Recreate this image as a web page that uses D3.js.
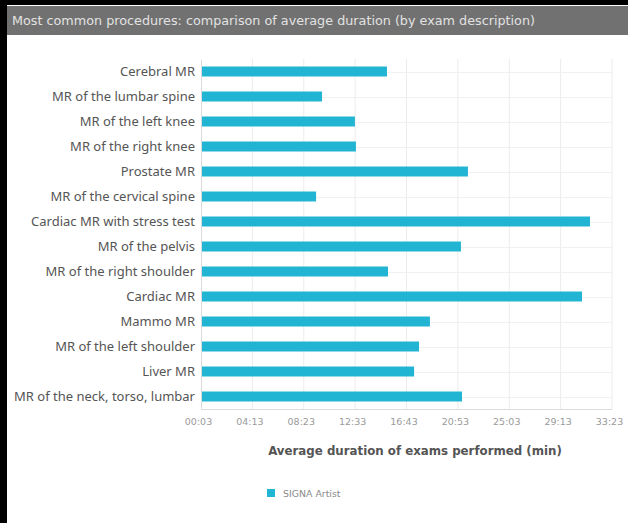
<!DOCTYPE html>
<html>
<head>
<meta charset="utf-8">
<script src="https://cdn.jsdelivr.net/npm/d3@7/dist/d3.min.js"></script>
<style>
  html, body { margin: 0; padding: 0; background: #000; }
  svg { display: block; }
</style>
</head>
<body>
<script>
// Exam descriptions, top to bottom
const categories = [
  "Cerebral MR",
  "MR of the lumbar spine",
  "MR of the left knee",
  "MR of the right knee",
  "Prostate MR",
  "MR of the cervical spine",
  "Cardiac MR with stress test",
  "MR of the pelvis",
  "MR of the right shoulder",
  "Cardiac MR",
  "Mammo MR",
  "MR of the left shoulder",
  "Liver MR",
  "MR of the neck, torso, lumbar"
];
// Average duration in seconds
const durations = [908, 592, 752, 757, 1302, 563, 1896, 1268, 913, 1857, 1117, 1064, 1040, 1273];
// Tick values in seconds, shown as mm:ss
const tickValues = [3, 253, 503, 753, 1003, 1253, 1503, 1753, 2003];
const seriesName = "SIGNA Artist";
const chartTitle = "Most common procedures: comparison of average duration (by exam description)";
const axisTitle = "Average duration of exams performed (min)";

const W = 628, H = 523;
const barColor = "#22b5d3";
const font = "'Noto Sans', 'Open Sans', sans-serif";
const wide = "'DejaVu Sans', Verdana, sans-serif";

const svg = d3.select("body").append("svg").attr("width", W).attr("height", H);

// black frame on top/left, white panel
svg.append("rect").attr("width", W).attr("height", H).attr("fill", "#000");
svg.append("rect").attr("x", 7).attr("y", 5).attr("width", W - 7).attr("height", H - 5).attr("fill", "#fff");

// title bar
svg.append("rect").attr("x", 7).attr("y", 6).attr("width", W - 7).attr("height", 29).attr("fill", "#717171");
svg.append("text").attr("x", 12).attr("y", 25)
  .attr("font-family", wide).attr("font-size", 12.2).attr("fill", "#e2e2e2")
  .attr("textLength", 523).attr("lengthAdjust", "spacingAndGlyphs")
  .text(chartTitle);

const m = { left: 201, right: 612, top: 59, bottom: 409 };

const x = d3.scaleLinear().domain([3, 2003]).range([m.left, m.right]);
const y = d3.scaleBand().domain(categories).range([m.top, m.bottom]).paddingInner(0.6).paddingOuter(0.3);

const fmt = s => {
  const mm = Math.floor(s / 60), ss = s % 60;
  return String(mm).padStart(2, "0") + ":" + String(ss).padStart(2, "0");
};

// vertical gridlines
svg.append("g").selectAll("line").data(tickValues.slice(1)).join("line")
  .attr("x1", d => x(d)).attr("x2", d => x(d))
  .attr("y1", m.top).attr("y2", m.bottom)
  .attr("stroke", "#ececec").attr("stroke-width", 1);

// horizontal faint gridlines through rows
svg.append("g").selectAll("line").data(categories).join("line")
  .attr("x1", m.left).attr("x2", m.right)
  .attr("y1", d => Math.round(y(d) + y.bandwidth() / 2) + 0.5)
  .attr("y2", d => Math.round(y(d) + y.bandwidth() / 2) + 0.5)
  .attr("stroke", "#f1f1f1");

// bars
svg.append("g").selectAll("rect").data(categories).join("rect")
  .attr("x", x(3))
  .attr("y", d => y(d))
  .attr("width", (d, i) => x(durations[i]) - x(3))
  .attr("height", y.bandwidth())
  .attr("fill", barColor);

// left axis with category labels
const yAxis = svg.append("g").attr("transform", `translate(${m.left},0)`)
  .call(d3.axisLeft(y).tickSize(0).tickPadding(6));
yAxis.select(".domain").attr("stroke", "#dcdcdc");
yAxis.selectAll("text").attr("font-family", font).attr("font-size", 13).attr("fill", "#555");

// bottom axis
const xAxis = svg.append("g").attr("transform", `translate(0,${m.bottom})`)
  .call(d3.axisBottom(x).tickValues(tickValues).tickFormat(fmt).tickSize(0).tickPadding(9));
xAxis.select(".domain").attr("stroke", "#dcdcdc");
xAxis.selectAll("text").attr("font-family", wide).attr("font-size", 9.5).attr("fill", "#9a9a9a")
  .attr("dx", -3);

// axis title
svg.append("text").attr("x", 415).attr("y", 455).attr("text-anchor", "middle")
  .attr("font-family", wide).attr("font-size", 11.8).attr("font-weight", "bold").attr("fill", "#555")
  .text(axisTitle);

// legend
const lg = svg.append("g").attr("transform", "translate(267,489)");
lg.append("rect").attr("width", 8).attr("height", 8).attr("fill", barColor);
lg.append("text").attr("x", 16).attr("y", 8)
  .attr("font-family", wide).attr("font-size", 9.4).attr("fill", "#8a8a8a")
  .text(seriesName);
</script>
</body>
</html>
